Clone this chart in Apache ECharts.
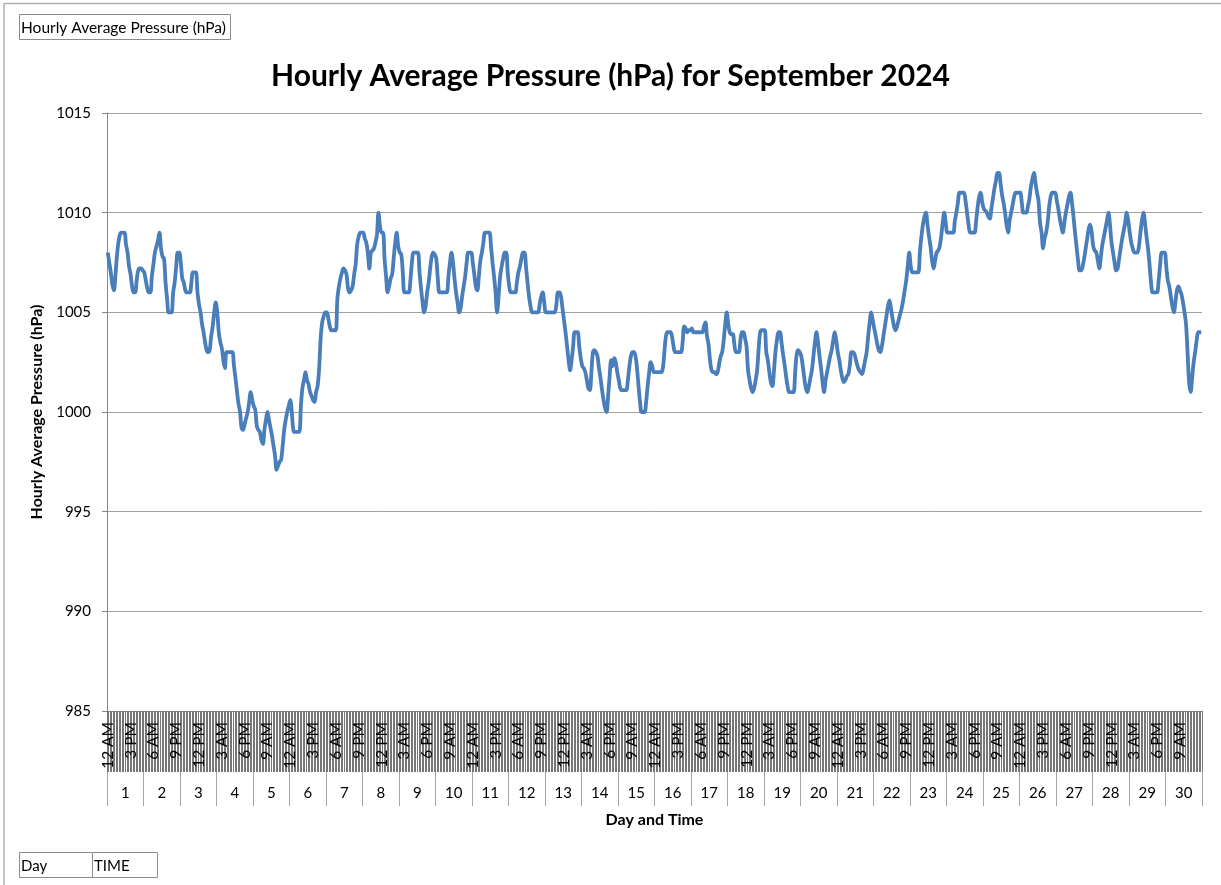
<!DOCTYPE html>
<html>
<head>
<meta charset="utf-8">
<script src="https://cdn.jsdelivr.net/npm/echarts@6/dist/echarts.min.js"></script>
<style>html,body{margin:0;padding:0;background:#fff}#c{width:1221px;height:885px}</style>
</head>
<body>
<div id="c"></div>
<script>
const days = ['1','2','3','4','5','6','7','8','9','10','11','12','13','14','15','16','17','18','19','20','21','22','23','24','25','26','27','28','29','30'];
const hourLabels = ['12 AM','1 AM','2 AM','3 AM','4 AM','5 AM','6 AM','7 AM','8 AM','9 AM','10 AM','11 AM','12 PM','1 PM','2 PM','3 PM','4 PM','5 PM','6 PM','7 PM','8 PM','9 PM','10 PM','11 PM'];
const yMin = 985, yMax = 1015, yStep = 5;

const day01 = [1008,1007.5,1007,1006.4,1006.1,1006.8,1007.8,1008.5,1008.9,1009,1009,1009,1008.4,1008,1007.3,1006.9,1006.3,1006,1006,1006.6,1007.1,1007.2,1007.2,1007.1];
const day02 = [1007,1006.6,1006.2,1006,1006,1006.8,1007.4,1008,1008.3,1008.6,1009,1008.2,1007.8,1007.7,1006.5,1005.7,1005,1005,1005,1006,1006.5,1007.3,1008,1008];
const day03 = [1007.5,1006.7,1006.5,1006.1,1006,1006,1006,1006.5,1007,1007,1007,1006,1005.4,1005,1004.4,1004,1003.5,1003.1,1003,1003.1,1003.8,1004.3,1005,1005.5];
const day04 = [1005,1004,1003.5,1003.2,1002.6,1002.2,1003,1003,1003,1003,1003,1002.3,1001.7,1001,1000.4,1000,999.2,999.1,999.4,999.7,1000,1000.5,1001,1000.6];
const day05 = [1000.3,1000.1,999.3,999.1,999,998.6,998.4,999.1,999.6,1000,999.6,999.2,998.8,998.3,997.8,997.1,997.3,997.5,997.6,998.3,999.1,999.6,1000,1000.3];
const day06 = [1000.6,1000,999.1,999,999,999,999,1000.3,1001.2,1001.6,1002,1001.6,1001.4,1001,1000.8,1000.6,1000.5,1001,1001.3,1002.2,1003.7,1004.5,1004.8,1005];
const day07 = [1005,1004.7,1004.3,1004.1,1004.1,1004.1,1004.1,1005.7,1006.3,1006.7,1007,1007.2,1007.1,1006.9,1006.2,1006,1006.1,1006.3,1006.9,1007.4,1008.4,1008.8,1009,1009];
const day08 = [1009,1008.7,1008.5,1008,1007.2,1008,1008.1,1008.2,1008.5,1008.9,1010,1009.3,1009,1009,1007.7,1006.8,1006,1006.3,1006.7,1006.9,1007.7,1008.5,1009,1008.3];
const day09 = [1008,1007.9,1007,1006,1006,1006,1006,1006.6,1007.5,1008,1008,1008,1008,1007,1006.2,1005.5,1005,1005.3,1006,1006.5,1007.2,1007.8,1008,1007.9];
const day10 = [1007.7,1006.7,1006,1006,1006,1006,1006,1006,1006.8,1007.5,1008,1007.5,1006.7,1006,1005.5,1005,1005.2,1005.8,1006.3,1006.8,1007.5,1008,1008,1008];
const day11 = [1007.5,1006.9,1006.3,1006.1,1006.8,1007.6,1008,1008.5,1009,1009,1009,1009,1008.3,1007.5,1006.8,1006,1005,1005.8,1006.8,1007.3,1007.7,1008,1008,1007];
const day12 = [1006.3,1006,1006,1006,1006,1006.5,1007,1007.3,1007.7,1008,1008,1007.3,1006.5,1005.8,1005.3,1005,1005,1005,1005,1005,1005.4,1005.8,1006,1005.5];
const day13 = [1005,1005,1005,1005,1005,1005,1005,1005.4,1006,1006,1005.8,1005.2,1004.6,1004,1003.3,1002.6,1002.1,1002.6,1003.3,1004,1004,1004,1003.3,1002.7];
const day14 = [1002.3,1002.2,1002,1001.6,1001.2,1001.1,1002,1003,1003.1,1003,1002.8,1002.2,1001.7,1001.1,1000.6,1000.2,1000,1000.8,1001.8,1002.6,1002.3,1002.7,1002.5,1002];
const day15 = [1001.6,1001.2,1001.1,1001.1,1001.1,1001.1,1001.6,1002.3,1002.8,1003,1003,1002.8,1002.2,1001.3,1000.5,1000,1000,1000,1000.5,1001.3,1002,1002.5,1002.3,1002];
const day16 = [1002,1002,1002,1002,1002,1002.2,1003,1003.8,1004,1004,1004,1003.8,1003.3,1003,1003,1003,1003,1003,1003.5,1004.3,1004.2,1004,1004.1,1004.1];
const day17 = [1004.2,1004,1004,1004,1004,1004,1004,1004,1004.3,1004.5,1003.8,1003.4,1002.6,1002.1,1002,1002,1001.9,1002,1002.4,1002.8,1003,1003.6,1004.4,1005];
const day18 = [1004.4,1004,1003.9,1003.9,1003.4,1003,1003,1003,1003.6,1004,1004,1003.7,1003.3,1002.1,1001.6,1001.2,1001,1001.2,1001.6,1002.1,1003.2,1004,1004.1,1004.1];
const day19 = [1004.1,1003,1002.6,1002,1001.5,1001.3,1002,1003,1003.6,1004,1004,1003.5,1002.9,1002.4,1001.8,1001.3,1001,1001,1001,1001,1002,1002.9,1003.1,1003];
const day20 = [1002.8,1002.3,1001.7,1001.2,1001,1001.3,1001.7,1002.1,1002.8,1003.5,1004,1003.5,1002.8,1002.2,1001.5,1001,1001.6,1002,1002.4,1002.8,1003.1,1003.6,1004,1003.6];
const day21 = [1003,1002.6,1002.1,1001.7,1001.5,1001.6,1001.8,1001.9,1002.4,1003,1003,1002.9,1002.6,1002.3,1002.1,1002,1001.9,1002.2,1002.6,1003,1003.8,1004.5,1005,1004.6];
const day22 = [1004.2,1003.8,1003.4,1003.1,1003,1003.3,1003.8,1004.3,1004.8,1005.3,1005.6,1005.2,1004.7,1004.3,1004.1,1004.3,1004.6,1004.9,1005.2,1005.6,1006.1,1006.6,1007.3,1008];
const day23 = [1007.3,1007,1007,1007,1007,1007,1008,1008.8,1009.4,1009.8,1010,1009.4,1008.8,1008.3,1007.6,1007.2,1007.6,1008,1008.1,1008.3,1008.8,1009.5,1010,1009.5];
const day24 = [1009,1009,1009,1009,1009,1009.6,1010,1010.5,1011,1011,1011,1011,1010.6,1010,1009.4,1009,1009,1009,1009,1009.6,1010.3,1010.8,1011,1010.5];
const day25 = [1010.2,1010.1,1010,1009.8,1009.7,1010.2,1010.7,1011.2,1011.6,1012,1012,1011.5,1010.9,1010.5,1010,1009.4,1009,1009.6,1010,1010.4,1010.8,1011,1011,1011];
const day26 = [1011,1010.5,1010,1010,1010,1010.3,1010.7,1011.3,1011.7,1012,1011.5,1011,1010.6,1009.5,1009,1008.2,1008.7,1009,1009.5,1010.3,1010.8,1011,1011,1011];
const day27 = [1010.6,1010.2,1009.7,1009.3,1009,1009.5,1010,1010.4,1010.8,1011,1010.5,1009.8,1009,1008.3,1007.6,1007.1,1007.1,1007.3,1007.7,1008.2,1008.7,1009.2,1009.4,1009];
const day28 = [1008.3,1008.1,1008,1007.6,1007.2,1007.8,1008.4,1008.8,1009.2,1009.6,1010,1009.4,1008.5,1008,1007.5,1007.1,1007.2,1007.7,1008.2,1008.7,1009.1,1009.5,1010,1009.6];
const day29 = [1009,1008.5,1008.2,1008,1008,1008,1008.3,1009,1009.6,1010,1009.5,1008.8,1008.2,1007.4,1006.5,1006,1006,1006,1006,1006.6,1007.4,1008,1008,1008];
const day30 = [1007.3,1006.6,1006.3,1005.8,1005.3,1005,1005.5,1006.1,1006.3,1006.1,1005.9,1005.5,1005,1004.4,1003,1001.5,1001,1001.7,1002.5,1003,1003.6,1004,1004,1004];

const dayData = [day01,day02,day03,day04,day05,day06,day07,day08,day09,day10,day11,day12,day13,day14,day15,day16,day17,day18,day19,day20,day21,day22,day23,day24,day25,day26,day27,day28,day29,day30];
const pressure = [].concat(...dayData);
const hourCats = [];
days.forEach(d => hourLabels.forEach(h => hourCats.push(d + '|' + h)));

const FONT = 'Lato, "Open Sans", sans-serif';
const chart = echarts.init(document.getElementById('c'), null, {renderer: 'canvas'});
chart.setOption({
  animation: false,
  backgroundColor: '#ffffff',
  title: {
    text: 'Hourly Average Pressure (hPa) for September 2024',
    left: 'center', top: 56,
    textStyle: {fontFamily: FONT, fontSize: 30, fontWeight: 'bold', color: '#000'}
  },
  grid: {left: 107, right: 19, top: 113, bottom: 174, containLabel: false},
  xAxis: [{
    type: 'category', data: hourCats, boundaryGap: true, position: 'bottom',
    axisLine: {show: true, lineStyle: {color: '#868686', width: 1}},
    axisTick: {show: true, interval: 0, length: 61, lineStyle: {color: '#767676', width: 1}},
    axisLabel: {interval: 14, rotate: 90, margin: 11, fontFamily: FONT, fontSize: 15.5, color: '#000',
      formatter: v => v.split('|')[1]},
    splitLine: {show: false},
    name: 'Day and Time', nameLocation: 'middle', nameGap: 101,
    nameTextStyle: {fontFamily: FONT, fontSize: 16, fontWeight: 'bold', color: '#000'}
  }, {
    type: 'category', data: days, boundaryGap: true, position: 'bottom', offset: 61,
    axisLine: {show: false},
    axisTick: {show: true, interval: 0, length: 34, lineStyle: {color: '#a6a6a6', width: 1}},
    axisLabel: {interval: 0, margin: 14, fontFamily: FONT, fontSize: 15, color: '#000'},
    splitLine: {show: false}
  }],
  yAxis: {
    type: 'value', min: yMin, max: yMax, interval: yStep,
    axisLine: {show: true, lineStyle: {color: '#868686', width: 1}},
    axisTick: {show: true, length: 5, lineStyle: {color: '#868686'}},
    axisLabel: {margin: 16, fontFamily: FONT, fontSize: 15, color: '#000', formatter: v => String(v)},
    splitLine: {show: true, lineStyle: {color: '#a0a0a0', width: 1}},
    name: 'Hourly Average Pressure (hPa)', nameLocation: 'middle', nameGap: 59, nameRotate: 90,
    nameTextStyle: {fontFamily: FONT, fontSize: 16, fontWeight: 'bold', color: '#000'}
  },
  series: [{
    type: 'line', xAxisIndex: 0, data: pressure, smooth: 0.35, showSymbol: false,
    lineStyle: {color: '#4a7ebb', width: 3.8}
  }],
  graphic: [
    {type: 'line', shape: {x1: 4, y1: 3.5, x2: 1221, y2: 3.5}, style: {stroke: '#b0b0b0', lineWidth: 1.5}},
    {type: 'line', shape: {x1: 4, y1: 3, x2: 4, y2: 885}, style: {stroke: '#b0b0b0', lineWidth: 1.5}},
    {type: 'rect', shape: {x: 19.5, y: 14.5, width: 211, height: 25}, style: {fill: '#fff', stroke: '#8c8c8c', lineWidth: 1}},
    {type: 'text', x: 21, y: 27.5, style: {text: 'Hourly Average Pressure (hPa)', fontFamily: FONT, fontSize: 15.5, fill: '#000', verticalAlign: 'middle'}},
    {type: 'rect', shape: {x: 19.5, y: 852.5, width: 138, height: 25}, style: {fill: '#fff', stroke: '#8c8c8c', lineWidth: 1}},
    {type: 'line', shape: {x1: 92.5, y1: 852.5, x2: 92.5, y2: 877.5}, style: {stroke: '#8c8c8c', lineWidth: 1}},
    {type: 'text', x: 21, y: 866, style: {text: 'Day', fontFamily: FONT, fontSize: 15, fill: '#000', verticalAlign: 'middle'}},
    {type: 'text', x: 94, y: 866, style: {text: 'TIME', fontFamily: FONT, fontSize: 15, fill: '#000', verticalAlign: 'middle'}}
  ]
});
</script>
</body>
</html>
